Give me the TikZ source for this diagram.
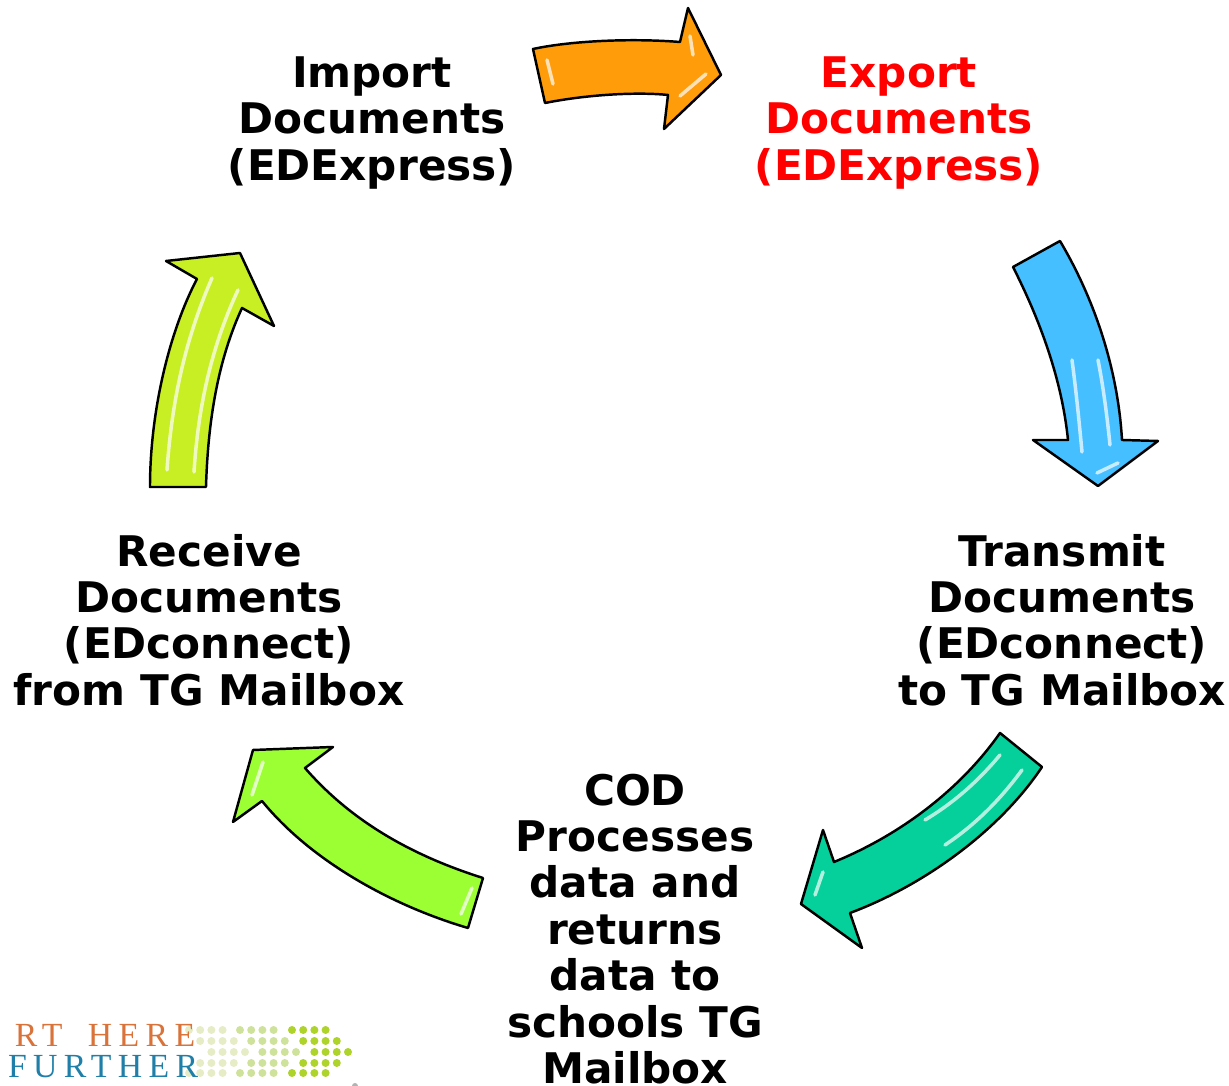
\documentclass[tikz,border=0pt]{standalone}
\usepackage{fontspec}
\setmainfont{DejaVu Sans}
\newfontfamily\logofont[LetterSpace=19]{Liberation Serif}
\usepackage{tikz}

\definecolor{orangearrow}{HTML}{FF9C0A}
\definecolor{bluearrow}{HTML}{45BFFF}
\definecolor{tealarrow}{HTML}{05CF9A}
\definecolor{greenarrow}{HTML}{9CFF33}
\definecolor{yellowarrow}{HTML}{C8EE24}
\definecolor{logoorange}{HTML}{D9733A}
\definecolor{logoblue}{HTML}{1F7FA8}
\definecolor{dotpale}{HTML}{E6EDC6}
\definecolor{dotmid}{HTML}{CFE29B}
\definecolor{dotstrong}{HTML}{AED32B}

\tikzset{
  steplabel/.style={align=center, font=\fontsize{12}{13.2}\selectfont\bfseries, inner sep=0pt},
  logolabel/.style={anchor=east, inner sep=0pt, font=\logofont\fontsize{9.6}{10}\selectfont},
  arrowbody/.style={draw=black, line width=0.7pt, line join=round},
  shine/.style={draw=white, line width=1pt, line cap=round, opacity=0.7},
}

\begin{document}
\begin{tikzpicture}[x=0.01cm, y=-0.01cm]

\useasboundingbox (0,0) rectangle (1229,1086);

\node[steplabel] (import) at (372,123) {Import\\Documents\\(EDExpress)};
\node[steplabel, text=red] (export) at (899,123) {Export\\Documents\\(EDExpress)};
\node[steplabel] (transmit) at (1062,620) {Transmit\\Documents\\(EDconnect)\\to TG Mailbox};
\node[steplabel] (cod) at (635,929) {COD\\Processes\\data and\\returns\\data to\\schools TG\\Mailbox};
\node[steplabel] (receive) at (209,620) {Receive\\Documents\\(EDconnect)\\from TG Mailbox};

% orange
\draw[arrowbody, fill=orangearrow] (533,49) .. controls (570,41) and (630,38) .. (680,42)
  -- (688,8) -- (721,75) -- (664,129) -- (668,95)
  .. controls (640,92) and (590,94) .. (545,103) -- cycle;
\draw[shine] (690,36) -- (693,55);
\draw[shine] (680,96) -- (706,74);
\draw[shine] (547,60) -- (553,84);

% blue
\draw[arrowbody, fill=bluearrow] (1013,267) -- (1060,241)
  .. controls (1095,300) and (1118,370) .. (1122,440)
  -- (1158,441) -- (1098,486) -- (1033,440) -- (1068,440)
  .. controls (1062,380) and (1040,320) .. (1013,267) -- cycle;
\draw[shine] (1072,360) .. controls (1076,390) and (1079,420) .. (1082,452);
\draw[shine] (1098,360) .. controls (1104,390) and (1108,425) .. (1110,445);
\draw[shine] (1097,473) -- (1118,463);

% teal
\draw[arrowbody, fill=tealarrow] (1000,733) -- (1042,767)
  .. controls (1000,830) and (925,885) .. (850,913)
  -- (862,948) -- (801,904) -- (823,830) -- (834,862)
  .. controls (900,835) and (960,790) .. (1000,733) -- cycle;
\draw[shine] (1000,755) .. controls (975,785) and (950,805) .. (925,820);
\draw[shine] (1022,770) .. controls (1000,800) and (975,825) .. (945,845);
\draw[shine] (823,872) -- (815,895);

% green
\draw[arrowbody, fill=greenarrow] (483,878)
  .. controls (410,855) and (350,820) .. (305,768)
  -- (333,747) -- (253,750) -- (233,822) -- (262,801)
  .. controls (310,860) and (390,905) .. (468,928) -- cycle;
\draw[shine] (263,762) -- (252,795);
\draw[shine] (472,888) -- (461,914);

% yellow
\draw[arrowbody, fill=yellowarrow] (150,487) -- (206,487)
  .. controls (208,420) and (218,360) .. (242,308)
  -- (274,326) -- (240,253) -- (166,261) -- (197,279)
  .. controls (170,330) and (150,410) .. (150,487) -- cycle;
\draw[shine] (167,470) .. controls (172,400) and (185,340) .. (212,278);
\draw[shine] (194,472) .. controls (198,410) and (210,350) .. (238,290);

% logo
\foreach \rowy/\shift in {1030/0, 1041/11.2, 1052/22.4, 1063/11.2, 1073/0} {
  \foreach \dotx in {0,1,2,3} {
    \fill[dotpale] (189+\shift+\dotx*11.2,\rowy) circle (4);
    \fill[dotmid] (240+\shift+\dotx*11.2,\rowy) circle (4);
    \fill[dotstrong] (292+\shift+\dotx*11.2,\rowy) circle (4);
  }
}
\node[logolabel, text=logoorange] (logohere) at (196,1035) {RT\hspace{3pt} HERE};
\node[logolabel, text=logoblue] (logofurther) at (199,1067) {FURTHER};
\fill[gray!60] (355,1086) circle (3);

\end{tikzpicture}
\end{document}
